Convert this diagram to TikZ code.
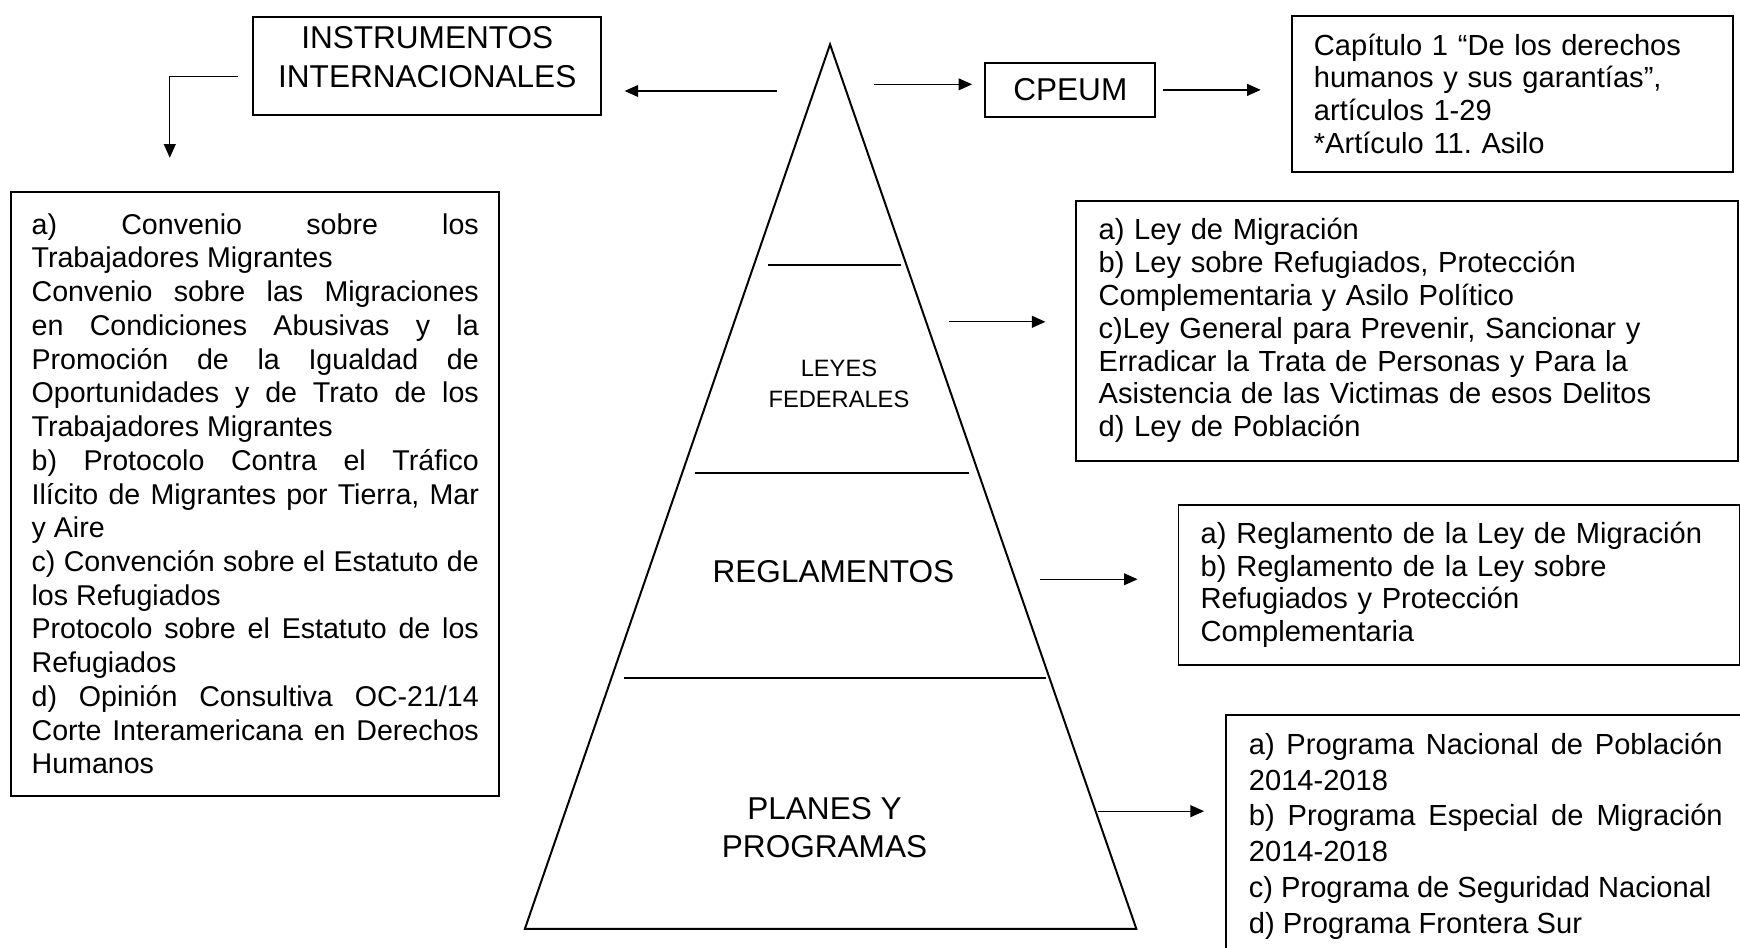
\documentclass[tikz,border=0pt]{standalone}
\usepackage{fontspec}
\setmainfont{Liberation Sans}
\usetikzlibrary{arrows.meta}
\hbadness=10000
\tolerance=9999
\frenchspacing
\begin{document}
\begin{tikzpicture}[x=0.45pt,y=-0.45pt,
    caja/.style={draw,line width=0.8pt,inner sep=0pt},
    texto/.style={font=\fontsize{11.8pt}{13.3pt}\selectfont,inner sep=0pt},
    titulo/.style={font=\fontsize{12.8pt}{15.75pt}\selectfont,align=center,inner sep=0pt},
    flecha/.style={line width=0.55pt,-{Triangle[length=5.5pt,width=4.8pt]}}]
  \useasboundingbox (0,0) rectangle (1568,854);
  \clip (0,0) rectangle (1568,854);
  % piramide
  \def\piramide{(748,40) -- (1024,837) -- (473,837) -- cycle}
  \draw [line width=0.8pt]\piramide;
  \draw [line width=0.8pt] (692,239) -- (812,239);
  \draw [line width=0.8pt] (626,426) -- (873,426);
  \draw [line width=0.8pt] (562,611) -- (943,611);
  \node[font=\fontsize{9.6pt}{12.6pt}\selectfont,align=center,inner sep=0pt] (leyes) at (756,346) {LEYES\\FEDERALES};
  \node[titulo] (reglam) at (751,515) {REGLAMENTOS};
  \node[titulo,font=\fontsize{12.8pt}{15.3pt}\selectfont] (planes) at (743,746) {PLANES Y\\PROGRAMAS};
  % cajas de arriba
  \node[caja,minimum width=141.3pt,minimum height=40.05pt] (inst) at (385,59.5) {};
  \node[titulo] (insttxt) at (385,51.5) {INSTRUMENTOS\\INTERNACIONALES};
  \node[caja,titulo,minimum width=68.85pt,minimum height=21.6pt] (cpeum) at (964.5,81) {CPEUM};
  \node[caja,texto,text width=161.1pt,align=left,inner xsep=9pt,
        minimum width=179.1pt,minimum height=63.45pt] (cap) at (1363,84.5)
    {Capítulo 1 “De los derechos\\humanos y sus garantías”,\\artículos 1-29\\{}*Artículo 11. Asilo};
  % instrumentos internacionales
  \node[caja,texto,font=\fontsize{11.6pt}{13.68pt}\selectfont,text width=181.35pt,align=justify,
        inner xsep=8.3pt,minimum width=198pt,minimum height=244.8pt] (izq) at (230,445)
    {a) Convenio sobre los\linebreak Trabajadores Migrantes\par
     Convenio sobre las Migraciones\linebreak en Condiciones Abusivas y la\linebreak
     Promoción de la Igualdad de\linebreak Oportunidades y de Trato de los\linebreak
     Trabajadores Migrantes\par
     b) Protocolo Contra el Tráfico\linebreak Ilícito de Migrantes por Tierra, Mar\linebreak y Aire\par
     c) Convención sobre el Estatuto de\linebreak los Refugiados\par
     Protocolo sobre el Estatuto de los\linebreak Refugiados\par
     d) Opinión Consultiva OC-21/14\linebreak Corte Interamericana en Derechos\linebreak Humanos};
  % leyes, reglamentos y programas
  \node[caja,texto,text width=250.2pt,align=left,inner xsep=9pt,
        minimum width=268.2pt,minimum height=105.3pt] (ley) at (1268,298)
    {a) Ley de Migración\\b) Ley sobre Refugiados, Protección\\Complementaria y Asilo Político\\
     c)Ley General para Prevenir, Sancionar y\\Erradicar la Trata de Personas y Para la\\
     Asistencia de las Victimas de esos Delitos\\d) Ley de Población};
  \node[caja,texto,text width=209.7pt,align=left,inner xsep=9pt,
        minimum width=227.7pt,minimum height=64.8pt] (reg) at (1315,527)
    {a) Reglamento de la Ley de Migración\\b) Reglamento de la Ley sobre\\Refugiados y Protección\\Complementaria};
  \node[texto,font=\fontsize{11.8pt}{14.5pt}\selectfont,text width=192.15pt,align=justify,
        anchor=north west] (prog) at (1125,660)
    {a) Programa Nacional de Población\linebreak 2014-2018\par
     b) Programa Especial de Migración\linebreak 2014-2018\par
     c) Programa de Seguridad Nacional\par
     d) Programa Frontera Sur};
  \draw [line width=0.8pt] (1105,900) |- (1620,644);
  % flechas
  \coordinate (p-inst) at (700,82);
  \coordinate (p-cpeum) at (788,76);
  \coordinate (p-ley) at (855,290);
  \coordinate (p-reg) at (937,522);
  \coordinate (p-prog) at (989,731);
  \coordinate (codo) at (153,69);
  \draw[flecha,shorten >=9pt] (p-inst) -- (p-inst -| inst.east);
  \draw[flecha,shorten <=5.85pt,shorten >=13.5pt] (codo -| inst.west) -- (codo) -- (codo |- izq.north);
  \draw[flecha,shorten >=5pt] (p-cpeum) -- (p-cpeum -| cpeum.west);
  \draw[flecha,shorten <=2.7pt,shorten >=12.15pt] (cpeum.east) -- (cpeum.east -| cap.west);
  \draw[flecha,shorten >=12.15pt] (p-ley) -- (p-ley -| ley.west);
  \draw[flecha,shorten >=16.2pt] (p-reg) -- (p-reg -| reg.west);
  \draw[flecha,shorten >=18pt] (p-prog) -- (p-prog -| prog.west);
\end{tikzpicture}
\end{document}
